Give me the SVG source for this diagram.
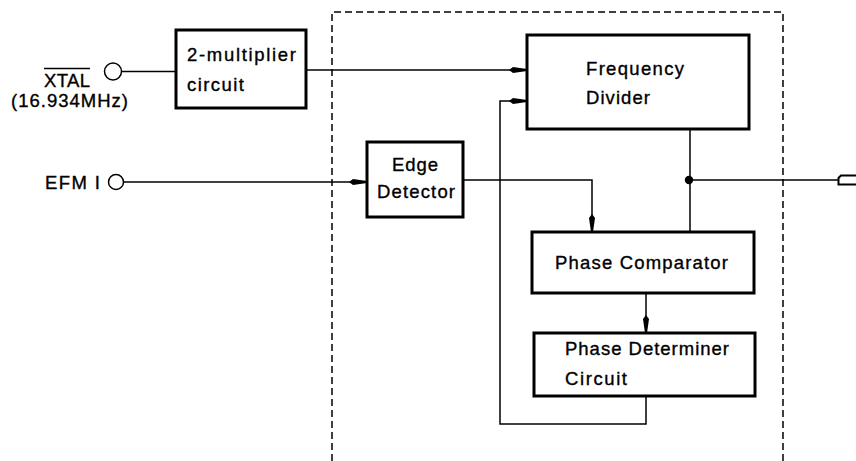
<svg xmlns="http://www.w3.org/2000/svg" width="856" height="461" viewBox="0 0 856 461">
<defs>
<style>
.box{fill:#fff;stroke:#000;stroke-width:3}
.ln{fill:none;stroke:#000;stroke-width:1.5}
.dash{fill:none;stroke:#000;stroke-width:1.5;stroke-dasharray:7,4}
.t{font-family:"Liberation Sans",Arial,Helvetica,sans-serif;font-size:18.5px;fill:#000;stroke:#000;stroke-width:0.35}
</style>
<marker id="arr" markerUnits="userSpaceOnUse" markerWidth="18" markerHeight="9" refX="18" refY="4.5" orient="auto">
<path d="M0,4.5 L4,1.5 L18,3.5 L18,5.5 L4,7.5 z" fill="#000"/>
</marker>
</defs>
<rect width="856" height="461" fill="#fff"/>
<path class="dash" d="M332,461 V12 H783 V461"/>
<g id="connectors">
<path class="ln" d="M121.5,71.5 H176"/>
<path class="ln" d="M306,70 H527" marker-end="url(#arr)"/>
<path class="ln" d="M123.5,182 H367" marker-end="url(#arr)"/>
<path class="ln" d="M463,180 H592 V232" marker-end="url(#arr)"/>
<path class="ln" d="M690,129 V232"/>
<path class="ln" d="M690,180 H838.5"/>
<circle cx="689" cy="180" r="4.2" fill="#000"/>
<path class="ln" d="M646,293 V333" marker-end="url(#arr)"/>
<path class="ln" d="M646,396 V424 H500 V101 H527" marker-end="url(#arr)"/>
<path class="ln" style="stroke-width:2" d="M856,175.5 H841 L838.5,178 V184.5 H856"/>
</g>
<g id="xtal">
<circle class="ln" cx="113" cy="71.5" r="8.5"/>
<text class="t" x="44" y="87" textLength="46" lengthAdjust="spacing">XTAL</text>
<path class="ln" d="M44,68.5 H90"/>
<text class="t" x="11" y="107" textLength="117" lengthAdjust="spacing">(16.934MHz)</text>
</g>
<g id="efm">
<circle class="ln" cx="116" cy="182" r="7.5"/>
<text class="t" x="45" y="189" textLength="55" lengthAdjust="spacing">EFM I</text>
</g>
<g id="multiplier">
<rect class="box" x="176" y="30" width="130" height="78"/>
<text class="t" x="187" y="61" textLength="109" lengthAdjust="spacing">2-multiplier</text>
<text class="t" x="187" y="91" textLength="57" lengthAdjust="spacing">circuit</text>
</g>
<g id="freqdiv">
<rect class="box" x="527" y="35" width="222" height="94"/>
<text class="t" x="586" y="75" textLength="98" lengthAdjust="spacing">Frequency</text>
<text class="t" x="586" y="104" textLength="64" lengthAdjust="spacing">Divider</text>
</g>
<g id="edge">
<rect class="box" x="367" y="142" width="96" height="75"/>
<text class="t" x="392" y="171" textLength="46" lengthAdjust="spacing">Edge</text>
<text class="t" x="377" y="198" textLength="78" lengthAdjust="spacing">Detector</text>
</g>
<g id="phasecomp">
<rect class="box" x="532" y="232" width="222" height="61"/>
<text class="t" x="555" y="269" textLength="173" lengthAdjust="spacing">Phase Comparator</text>
</g>
<g id="phasedet">
<rect class="box" x="534" y="333" width="221" height="63"/>
<text class="t" x="565" y="355" textLength="164" lengthAdjust="spacing">Phase Determiner</text>
<text class="t" x="565" y="385" textLength="62" lengthAdjust="spacing">Circuit</text>
</g>
</svg>
